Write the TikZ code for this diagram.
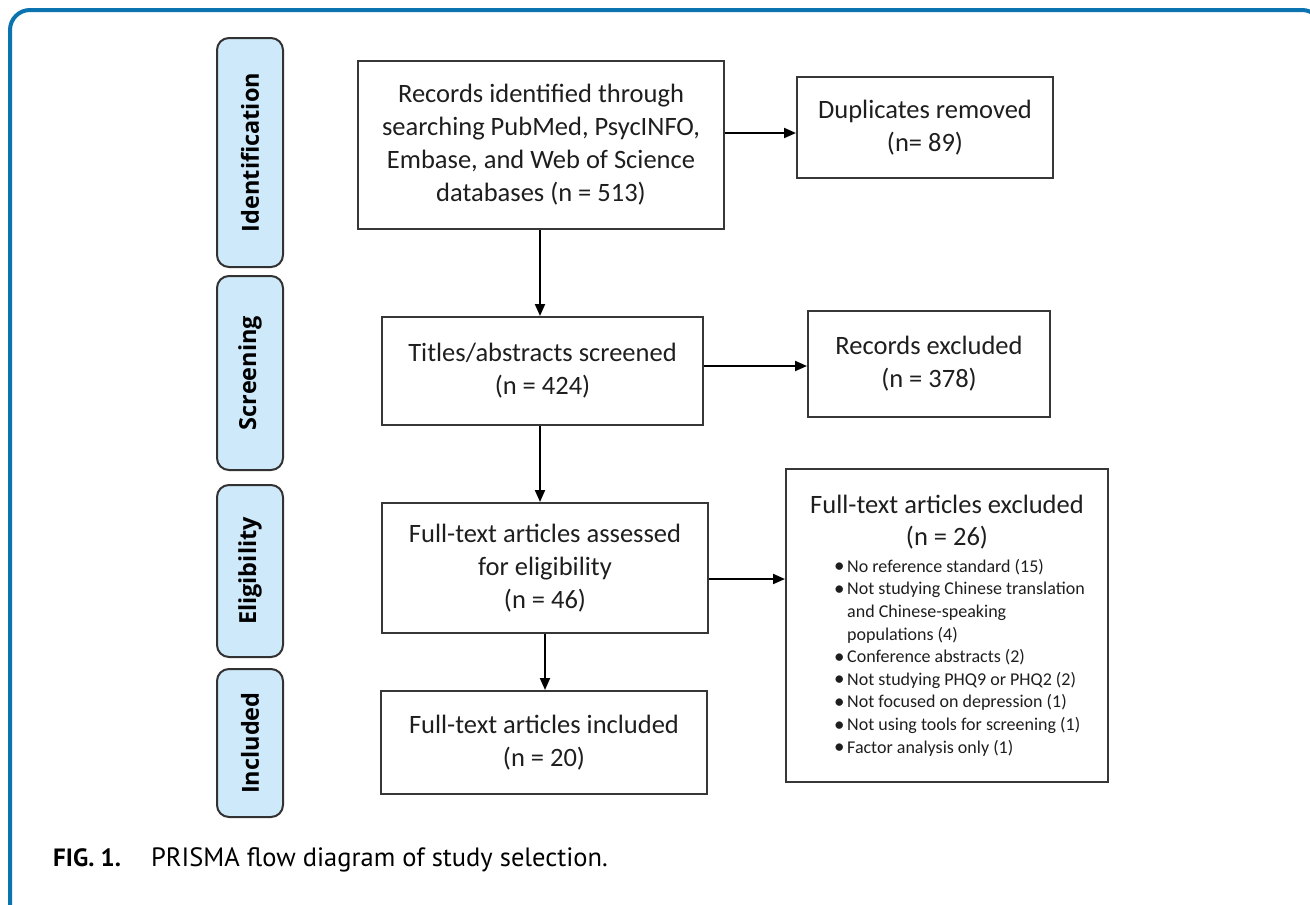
\documentclass[tikz,border=0pt]{standalone}
\usepackage{fontspec}
\setmainfont{Carlito}
\newfontfamily\labfont{Open Sans}
\newfontfamily\capfont{PT Sans}
\usetikzlibrary{arrows.meta}
\definecolor{framecol}{RGB}{10,115,176}
\definecolor{labfill}{RGB}{205,233,250}
\definecolor{labborder}{RGB}{50,50,50}
\definecolor{boxcol}{RGB}{55,55,55}
\definecolor{textcol}{RGB}{30,30,30}
\newcommand{\bul}{\makebox[13pt][l]{\raisebox{-0.5pt}{\fontsize{21}{21}\selectfont•}}}
\newcommand{\nobul}{\makebox[13pt][l]{}}
\tikzset{
  box/.style={draw=boxcol, line width=2, align=center, inner sep=0, text=textcol,
    font=\fontsize{26.5}{33}\selectfont},
  lab/.style={draw=labborder, fill=labfill, line width=2, rounded corners=12,
    rotate=90, minimum height=66, inner sep=0, text=black,
    font=\labfont\bfseries\fontsize{23.5}{26}\selectfont},
  arr/.style={-{Triangle[length=12,width=10]}, line width=2, draw=black},
  plain/.style={inner sep=0, text=textcol}
}
\begin{document}
\begin{tikzpicture}[x=1pt,y=-1pt]
\useasboundingbox (0,0) rectangle (1310,905);
\begin{scope}
\clip (0,0) rectangle (1310,905);
\draw[framecol, line width=4, rounded corners=20] (10,10) rectangle (1322,1000);
\end{scope}

% stage labels
\node[lab, minimum width=229] (lid) at (250,152.5) {Identification};
\node[lab, minimum width=194] (lsc) at (250,373) {Screening};
\node[lab, minimum width=172] (lel) at (250,571) {Eligibility};
\node[lab, minimum width=148] (lin) at (250,743) {Included};

% main boxes
\node[box, minimum width=366, minimum height=168] (rec) at (541,145)
  {Records identified through\\searching PubMed, PsycINFO,\\Embase, and Web of Science\\databases (n = 513)};
\node[box, minimum width=256, minimum height=101] (dup) at (925,127.5)
  {Duplicates removed\\(n= 89)};
\node[box, minimum width=321, minimum height=108] (scr) at (542.5,371)
  {Titles/abstracts screened\\(n = 424)};
\node[box, minimum width=242, minimum height=106] (rex) at (929,364)
  {Records excluded\\(n = 378)};
\node[box, minimum width=326, minimum height=130] (ful) at (545,568)
  {Full-text articles assessed\\for eligibility\\(n = 46)};
\node[box, minimum width=322, minimum height=313] (fex) at (947,625.5) {};
\node[plain, align=center, font=\fontsize{26.5}{32}\selectfont] (fext) at (947,522)
  {Full-text articles excluded\\(n = 26)};
\node[plain, align=left, anchor=north west, font=\fontsize{18}{22.6}\selectfont] (fexl) at (834,559)
  {\bul No reference standard (15)\\
   \bul Not studying Chinese translation\\
   \nobul and Chinese-speaking\\
   \nobul populations (4)\\
   \bul Conference abstracts (2)\\
   \bul Not studying PHQ9 or PHQ2 (2)\\
   \bul Not focused on depression (1)\\
   \bul Not using tools for screening (1)\\
   \bul Factor analysis only (1)};
\node[box, minimum width=326, minimum height=103] (inc) at (544,742.5)
  {Full-text articles included\\(n = 20)};

% connector positions
\coordinate (h1) at (0,133);
\coordinate (h2) at (0,366);
\coordinate (h3) at (0,579);
\coordinate (v1) at (540,0);
\coordinate (v2) at (545,0);

% connectors
\draw[arr] (rec.south -| v1) -- (scr.north -| v1);
\draw[arr] (scr.south -| v1) -- (ful.north -| v1);
\draw[arr] (ful.south -| v2) -- (inc.north -| v2);
\draw[arr] (rec.east |- h1) -- (dup.west |- h1);
\draw[arr] (scr.east |- h2) -- (rex.west |- h2);
\draw[arr] (ful.east |- h3) -- (fex.west |- h3);

% caption
\node[plain, anchor=west, text=black, font=\capfont\fontsize{26.5}{30}\selectfont] (cap) at (53,860)
  {{\fontsize{25}{30}\selectfont\bfseries FIG. 1.}\hspace{30pt}PRISMA flow diagram of study selection.};
\end{tikzpicture}
\end{document}
